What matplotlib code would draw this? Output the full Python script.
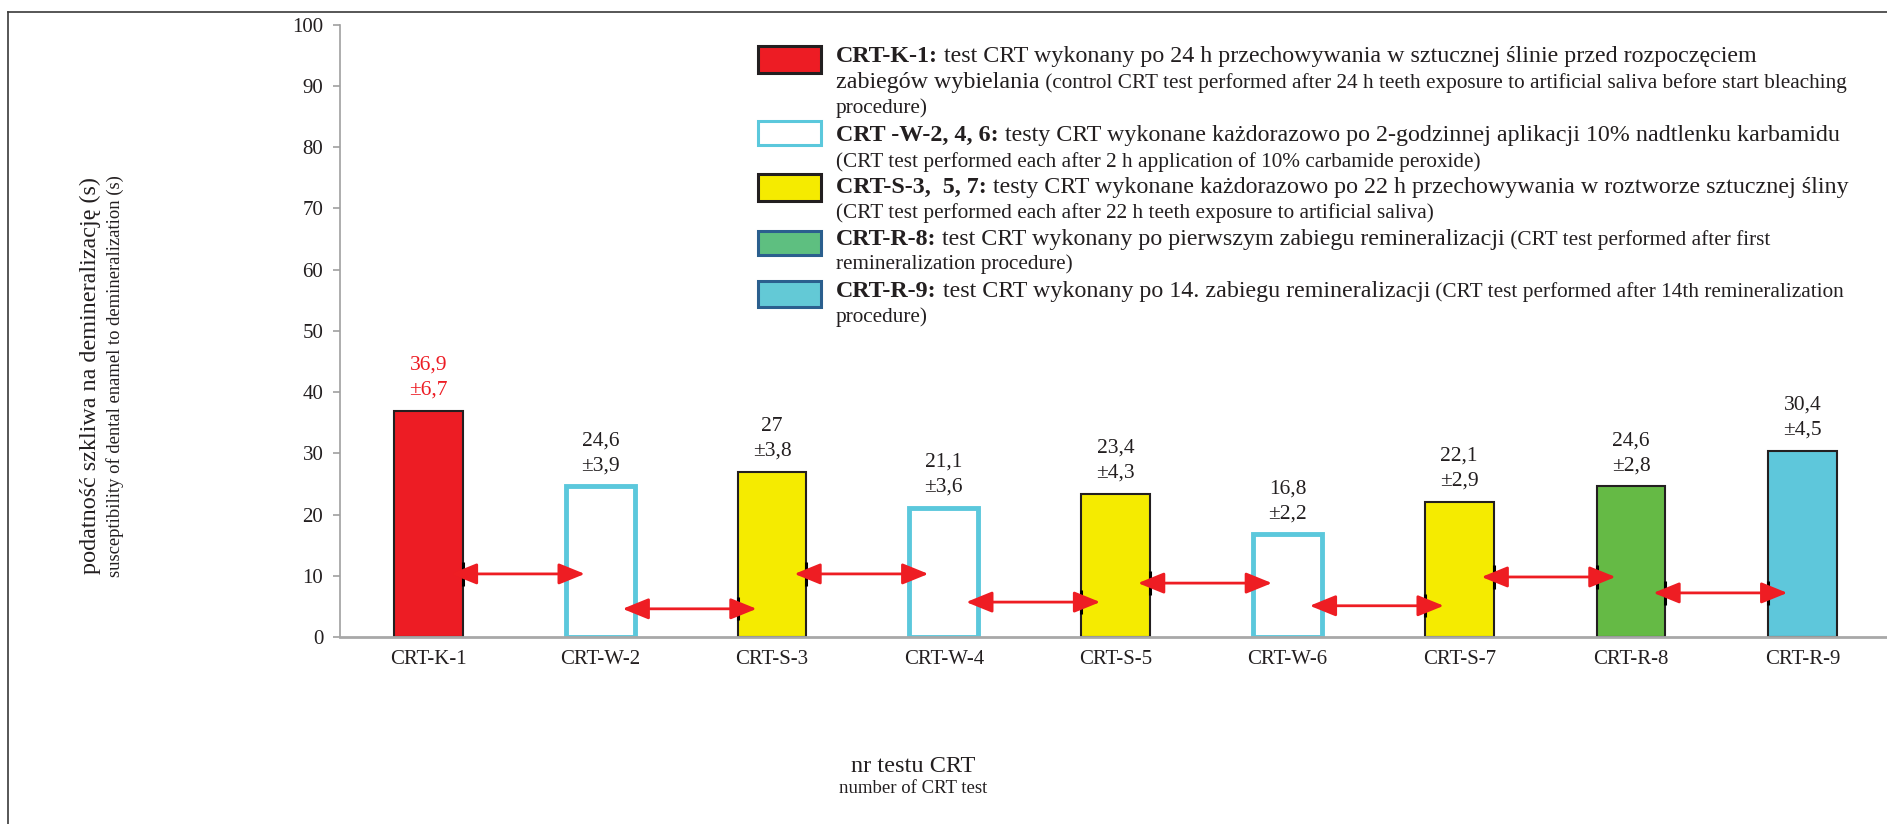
import matplotlib
matplotlib.use('Agg')
import matplotlib.pyplot as plt
from matplotlib.patches import Rectangle
from matplotlib.lines import Line2D

plt.rcParams['font.family'] = ['Liberation Serif', 'DejaVu Serif']

# ---------------- data ----------------
categories = ['CRT-K-1', 'CRT-W-2', 'CRT-S-3', 'CRT-W-4', 'CRT-S-5',
              'CRT-W-6', 'CRT-S-7', 'CRT-R-8', 'CRT-R-9']
means = [36.9, 24.6, 27.0, 21.1, 23.4, 16.8, 22.1, 24.6, 30.4]
sds = [6.7, 3.9, 3.8, 3.6, 4.3, 2.2, 2.9, 2.8, 4.5]
mean_labels = ['36,9', '24,6', '27', '21,1', '23,4', '16,8', '22,1', '24,6', '30,4']
sd_labels = ['±6,7', '±3,9', '±3,8', '±3,6', '±4,3', '±2,2', '±2,9', '±2,8', '±4,5']
groups = ['K', 'W', 'S', 'W', 'S', 'W', 'S', 'R8', 'R9']
arrow_levels = [10.3, 4.6, 10.3, 5.7, 8.8, 5.1, 9.8, 7.2]
y_ticks = [0, 10, 20, 30, 40, 50, 60, 70, 80, 90, 100]

ylabel_pl = 'podatność szkliwa na demineralizację (s)'
ylabel_en = 'susceptibility of dental enamel to demineralization (s)'
xlabel_pl = 'nr testu CRT'
xlabel_en = 'number of CRT test'

# legend lines: list of runs (text, kind) ; kind: 'b' bold, 'r' regular, 's' small
legend_K = [[('CRT-K-1:', 'b'), (' test CRT wykonany po 24 h przechowywania w sztucznej ślinie przed rozpoczęciem', 'r')],
            [('zabiegów wybielania', 'r'), (' (control CRT test performed after 24 h teeth exposure to artificial saliva before start bleaching', 's')],
            [('procedure)', 's')]]
legend_W = [[('CRT -W-2, 4, 6:', 'b'), (' testy CRT wykonane każdorazowo po 2-godzinnej aplikacji 10% nadtlenku karbamidu', 'r')],
            [('(CRT test performed each after 2 h application of 10% carbamide peroxide)', 's')]]
legend_S = [[('CRT-S-3,  5, 7:', 'b'), (' testy CRT wykonane każdorazowo po 22 h przechowywania w roztworze sztucznej śliny', 'r')],
            [('(CRT test performed each after 22 h teeth exposure to artificial saliva)', 's')]]
legend_R8 = [[('CRT-R-8:', 'b'), (' test CRT wykonany po pierwszym zabiegu remineralizacji', 'r'), (' (CRT test performed after first', 's')],
             [('remineralization procedure)', 's')]]
legend_R9 = [[('CRT-R-9:', 'b'), (' test CRT wykonany po 14. zabiegu remineralizacji', 'r'), (' (CRT test performed after 14th remineralization', 's')],
             [('procedure)', 's')]]

# ---------------- styles ----------------
TXT = '#231F20'
RED = '#ED1C24'
bar_style = {
    'K': dict(fc='#ED1C24', ec='#231F20', lw=1.5),
    'W': dict(fc='white', ec='#5BC8DC', lw=3.5),
    'S': dict(fc='#F5EB00', ec='#231F20', lw=1.5),
    'R8': dict(fc='#65BA45', ec='#231F20', lw=1.5),
    'R9': dict(fc='#5EC7DB', ec='#231F20', lw=1.5),
}
legend_style = {
    'K': dict(fc='#ED1C24', ec='#231F20', lw=2.2),
    'W': dict(fc='white', ec='#5BC8DC', lw=2.2),
    'S': dict(fc='#F5EB00', ec='#231F20', lw=2.2),
    'R8': dict(fc='#5EBF80', ec='#2B5F8E', lw=2.2),
    'R9': dict(fc='#63C9D6', ec='#2B5F8E', lw=2.2),
}
LEG_BIG = 17.3
LEG_SMALL = 15.3

W, H = 1887, 824
fig = plt.figure(figsize=(W / 100, H / 100), dpi=100)

def fx(px):
    return px / W

def fy(py):
    return 1 - py / H

ax = fig.add_axes([fx(340), fy(637), 1 - fx(340), (637 - 24.5) / H])
ax.set_xlim(-0.515, 8.49)
ax.set_ylim(0, 100)

x = list(range(len(categories)))
bar_w = 0.4
for i, g in enumerate(groups):
    st = bar_style[g]
    ax.bar(i, means[i], width=bar_w, color=st['fc'], edgecolor=st['ec'],
           linewidth=st['lw'], zorder=2)

# value labels
for i in x:
    col = RED if groups[i] == 'K' else TXT
    ax.annotate(sd_labels[i], xy=(i, means[i]), xytext=(0, 11.5), textcoords='offset points',
                ha='center', va='baseline', fontsize=15.5, color=col)
    ax.annotate(mean_labels[i], xy=(i, means[i]), xytext=(0, 29.5), textcoords='offset points',
                ha='center', va='baseline', fontsize=15.5, color=col)

# arrows between consecutive tests
for i, lev in enumerate(arrow_levels):
    ax.annotate('', xy=(i + 1 - 0.09, lev), xytext=(i + 0.13, lev),
                arrowprops=dict(arrowstyle='<|-|>,head_length=1.6,head_width=0.65',
                                color='#EE1D23', lw=2, shrinkA=0, shrinkB=0,
                                mutation_scale=10), zorder=4)
    if groups[i] != 'W':
        ax.vlines(i + bar_w / 2, lev - 1.9, lev + 1.9, color='black', lw=2.2, zorder=3)
    if groups[i + 1] != 'W':
        ax.vlines(i + 1 - bar_w / 2, lev - 1.9, lev + 1.9, color='black', lw=2.2, zorder=3)

ax.set_xticks(x)
ax.set_xticklabels(categories, fontsize=15, color=TXT)
ax.set_yticks(y_ticks)
ax.set_yticklabels([str(v) for v in y_ticks], fontsize=15, color=TXT)
ax.tick_params(axis='x', length=0, pad=9)
ax.tick_params(axis='y', length=5, width=1.2, color='#9F9F9F', pad=7)
for s in ['top', 'right']:
    ax.spines[s].set_visible(False)
ax.spines['left'].set_color('#9F9F9F')
ax.spines['left'].set_linewidth(1.2)
ax.spines['bottom'].set_color('#A8A8A8')
ax.spines['bottom'].set_linewidth(2)

# axis titles
fig.text(fx(90), fy(376), ylabel_pl, rotation=90, ha='center', va='center', fontsize=17.4, color=TXT)
fig.text(fx(115), fy(376), ylabel_en, rotation=90, ha='center', va='center', fontsize=13.4, color=TXT)
fig.text(fx(913), fy(772), xlabel_pl, ha='center', va='baseline', fontsize=17.5, color=TXT)
fig.text(fx(913), fy(793), xlabel_en, ha='center', va='baseline', fontsize=13.5, color=TXT)

# legend
def draw_line(runs, x0, base_y):
    prev = None
    for txt, kind in runs:
        kw = dict(color=TXT, fontsize=LEG_BIG if kind in 'br' else LEG_SMALL,
                  fontweight='bold' if kind == 'b' else 'normal')
        if prev is None:
            prev = fig.text(fx(x0), fy(base_y), txt, ha='left', va='baseline', **kw)
        else:
            prev = ax.annotate(txt, xy=(1, 0), xycoords=prev, ha='left', va='bottom',
                               annotation_clip=False, **kw)

legend_blocks = [
    ('K', legend_K, (46, 73), [62, 88, 113]),
    ('W', legend_W, (121, 145), [141, 167]),
    ('S', legend_S, (174, 201), [193, 218]),
    ('R8', legend_R8, (231, 255), [245, 269]),
    ('R9', legend_R9, (281, 307), [297, 322]),
]
for g, lines, (t, b), bases in legend_blocks:
    st = legend_style[g]
    fig.add_artist(Rectangle((fx(758), fy(b)), (821 - 758) / W, (b - t) / H,
                             transform=fig.transFigure, facecolor=st['fc'],
                             edgecolor=st['ec'], linewidth=st['lw']))
    for runs, by in zip(lines, bases):
        draw_line(runs, 836, by)

# figure frame (top and left edges)
fig.add_artist(Line2D([fx(8), 1], [fy(11.5), fy(11.5)], transform=fig.transFigure,
                      color='#3A3A3A', lw=1.2))
fig.add_artist(Line2D([fx(8), fx(8)], [0, fy(11.5)], transform=fig.transFigure,
                      color='#3A3A3A', lw=1.2))

fig.savefig('out.png', dpi=100)
